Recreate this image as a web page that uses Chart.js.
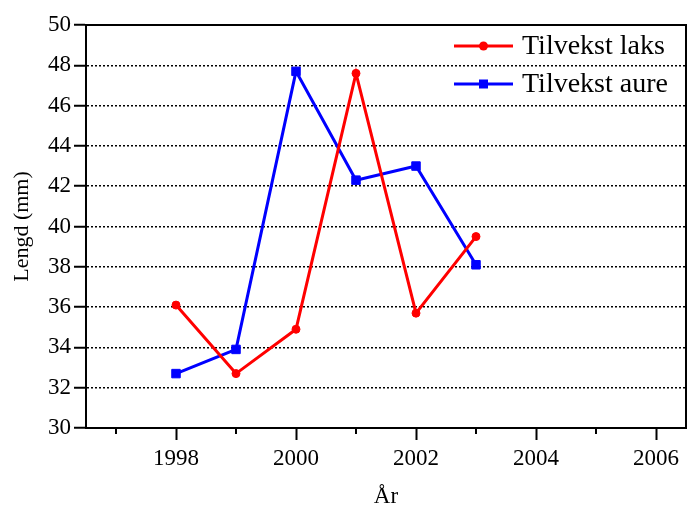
<!DOCTYPE html>
<html>
<head>
<meta charset="utf-8">
<script src="https://cdn.jsdelivr.net/npm/chart.js@4"></script>
<style>
  html, body { margin: 0; padding: 0; background: #fff; }
  #wrap { width: 689px; height: 508px; }
</style>
</head>
<body>
<div id="wrap"><canvas id="lengdChart" width="689" height="508"></canvas></div>
<script>
var years = [1998, 1999, 2000, 2001, 2002, 2003];
var laks = [36.1, 32.7, 34.9, 47.6, 35.7, 39.5];
var aure = [32.7, 33.9, 47.7, 42.3, 43.0, 38.1];
var xTicks = [1997, 1998, 1999, 2000, 2001, 2002, 2003, 2004, 2005, 2006];
var yTicks = [30, 32, 34, 36, 38, 40, 42, 44, 46, 48, 50];
var seriesNames = ['Tilvekst laks', 'Tilvekst aure'];

var serif = '"Liberation Serif", "Times New Roman", serif';

function pairs(vals) {
  return years.map(function (y, i) { return { x: y, y: vals[i] }; });
}

// frame, minor ticks and legend
var extras = {
  id: 'extras',
  afterDraw: function (chart) {
    var c = chart.ctx, a = chart.chartArea;
    c.save();
    c.strokeStyle = '#000';
    c.lineWidth = 2;
    c.beginPath();
    c.moveTo(a.left, a.top);
    c.lineTo(a.right, a.top);
    c.lineTo(a.right, a.bottom);
    c.stroke();

    // short ticks on odd years
    var xs = chart.scales.x;
    xTicks.forEach(function (v) {
      if (v % 2 === 1) {
        var px = xs.getPixelForValue(v);
        c.beginPath();
        c.moveTo(px, a.bottom);
        c.lineTo(px, a.bottom + 6);
        c.stroke();
      }
    });

    // legend
    var rows = [46, 84];
    chart.data.datasets.forEach(function (ds, i) {
      var y = rows[i];
      c.strokeStyle = ds.borderColor;
      c.lineWidth = 3;
      c.beginPath();
      c.moveTo(454, y);
      c.lineTo(513, y);
      c.stroke();
      c.fillStyle = ds.backgroundColor;
      c.beginPath();
      if (ds.pointStyle === 'rect') {
        c.rect(479, y - 4.5, 9, 9);
      } else {
        c.arc(483.5, y, 4.5, 0, Math.PI * 2);
      }
      c.fill();
      c.fillStyle = '#000';
      c.font = '28px ' + serif;
      c.textBaseline = 'middle';
      c.fillText(ds.label, 522, y + 1);
    });
    c.restore();
  }
};

var ctx = document.getElementById('lengdChart').getContext('2d');
var lengdChart = new Chart(ctx, {
  type: 'line',
  data: {
    datasets: [{
      label: seriesNames[0],
      data: pairs(laks),
      borderColor: '#ff0000',
      backgroundColor: '#ff0000',
      borderWidth: 3,
      pointStyle: 'circle',
      pointRadius: 4,
      pointBorderWidth: 1
    }, {
      label: seriesNames[1],
      data: pairs(aure),
      borderColor: '#0000ff',
      backgroundColor: '#0000ff',
      borderWidth: 3,
      pointStyle: 'rect',
      pointRadius: 6,
      pointBorderWidth: 1
    }]
  },
  options: {
    responsive: false,
    animation: false,
    layout: { autoPadding: false, padding: { top: 25, right: 3, left: 0, bottom: 0 } },
    plugins: {
      legend: { display: false },
      tooltip: { enabled: false }
    },
    scales: {
      x: {
        type: 'linear',
        min: 1996.5,
        max: 2006.5,
        afterBuildTicks: function (axis) {
          axis.ticks = xTicks.map(function (v) { return { value: v }; });
        },
        afterFit: function (axis) {
          axis.height = 80;
          axis.paddingLeft = 0;
          axis.paddingRight = 0;
        },
        border: { display: true, color: '#000', width: 2 },
        grid: {
          drawOnChartArea: false,
          tickLength: 12,
          tickWidth: 2,
          tickColor: function (c) { return c.tick && c.tick.value % 2 === 0 ? '#000' : 'rgba(0,0,0,0)'; }
        },
        ticks: {
          color: '#000',
          padding: 5,
          maxRotation: 0,
          autoSkip: false,
          font: { family: serif, size: 23 },
          callback: function (v) { return v % 2 === 0 ? String(v) : ''; }
        },
        title: {
          display: true,
          text: 'År',
          color: '#000',
          font: { family: serif, size: 23, lineHeight: 1 },
          padding: { top: 6, bottom: 0 }
        }
      },
      y: {
        min: 30,
        max: 50,
        afterBuildTicks: function (axis) {
          axis.ticks = yTicks.map(function (v) { return { value: v }; });
        },
        afterFit: function (axis) { axis.width = 86; },
        border: { display: true, color: '#000', width: 2, dash: [2, 2] },
        grid: {
          lineWidth: 1.5,
          color: function (c) {
            var v = c.tick ? c.tick.value : null;
            return (v === 30 || v === 50) ? 'rgba(0,0,0,0)' : '#000';
          },
          tickColor: '#000',
          tickWidth: 2,
          tickLength: 12
        },
        ticks: {
          color: '#000',
          padding: 3,
          font: { family: serif, size: 23 }
        },
        title: {
          display: true,
          text: 'Lengd (mm)',
          color: '#000',
          font: { family: serif, size: 22, lineHeight: 1 },
          padding: { top: 11, bottom: 0 }
        }
      }
    }
  },
  plugins: [extras]
});
</script>
</body>
</html>
